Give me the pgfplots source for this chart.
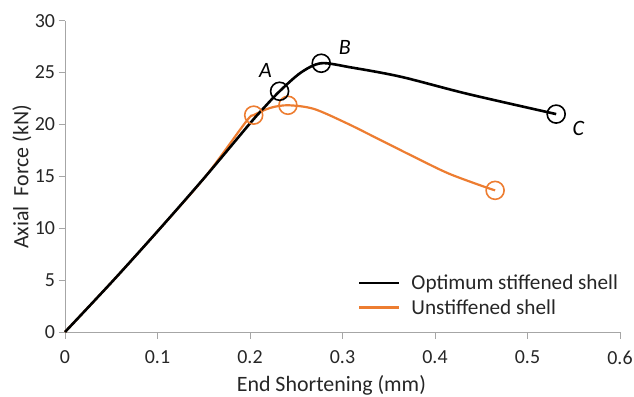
\documentclass[border=0pt]{standalone}
\usepackage{pgfplots}
\pgfplotsset{compat=1.18}
\usepackage{fontspec}
\setmainfont{Carlito}

\definecolor{txt}{HTML}{262626}
\definecolor{axgray}{HTML}{A6A6A6}
\definecolor{shellorange}{HTML}{ED7D31}
\newcommand{\tickfont}{\fontsize{20}{24}\selectfont}
\newcommand{\titlefont}{\fontsize{22}{26}\selectfont}
\newcommand{\legfont}{\fontsize{21.3}{25}\selectfont}

\begin{document}
\begin{tikzpicture}
\begin{axis}[
  at={(65bp,65bp)}, anchor=south west,
  scale only axis, width=555bp, height=311.3bp,
  xmin=0, xmax=0.6, ymin=0, ymax=30,
  axis lines=left,
  axis line style={axgray, line width=1bp, -},
  xtick={0,0.1,0.2,0.3,0.4,0.5,0.6},
  ytick={0,5,10,15,20,25,30},
  xticklabels={0,0.1,0.2,0.3,0.4,0.5,0.6},
  tick style={axgray, line width=1bp},
  major tick length=6.5bp, tick align=outside,
  ticklabel style={font=\tickfont, text=txt},
  xticklabel style={yshift=-9bp},
  /pgf/number format/assume math mode=true,
  xlabel={End Shortening (mm)},
  ylabel={Axial\ \ Force (kN)},
  xlabel style={font=\titlefont, text=txt, at={(axis description cs:0.48,-0.17)}, anchor=center},
  ylabel style={font=\titlefont, text=txt, at={(axis description cs:-0.0777,0.498)}, anchor=center},
  legend image code/.code={\draw[#1] (0bp,0bp) -- (40bp,0bp);},
  legend style={at={(axis description cs:0.527,0.191)}, anchor=north west,
    draw=none, fill=none, inner sep=0pt, row sep=4.3bp,
    nodes={inner sep=2bp, text=txt, font=\legfont},
    /tikz/every odd column/.append style={column sep=9bp}},
  legend cell align=left,
  clip=false,
]
% unstiffened shell: curve first so the stiffened one lies on top
\addplot[shellorange, line width=2.2bp, smooth, forget plot] coordinates {
  (0,0) (0.0525,5) (0.103,10) (0.152,15) (0.196,20.3) (0.204,20.9)
  (0.222,21.6) (0.241,21.85) (0.269,21.5) (0.305,20.1) (0.341,18.5)
  (0.378,16.85) (0.414,15.3) (0.450,14.1) (0.465,13.65)};
\addplot[shellorange, line width=1.6bp, only marks, mark=o, mark size=9bp, forget plot]
  coordinates {(0.204,20.9) (0.241,21.85) (0.465,13.65)};

% optimum stiffened shell
\addplot[black, line width=2.6bp, smooth] coordinates {
  (0,0) (0.0525,5) (0.103,10) (0.152,15) (0.199,20) (0.215,21.6)
  (0.232,23.2) (0.255,25.0) (0.277,25.9) (0.309,25.5) (0.363,24.6)
  (0.435,22.95) (0.531,21.0)};
\addlegendentry{Optimum stiffened shell}
\addplot[black, line width=1.6bp, only marks, mark=o, mark size=9bp, forget plot]
  coordinates {(0.232,23.2) (0.277,25.9) (0.531,21.0)};

\addlegendimage{shellorange, line width=2.8bp}
\addlegendentry{Unstiffened shell}

\node[font=\titlefont\itshape] at (axis cs:0.2168,25.2) {A};
\node[font=\titlefont\itshape] at (axis cs:0.3024,27.4) {B};
\node[font=\titlefont\itshape] at (axis cs:0.555,19.6) {C};
\end{axis}
\pgfresetboundingbox
\path[use as bounding box] (0,0) rectangle (634bp,397bp);
\end{tikzpicture}
\end{document}
